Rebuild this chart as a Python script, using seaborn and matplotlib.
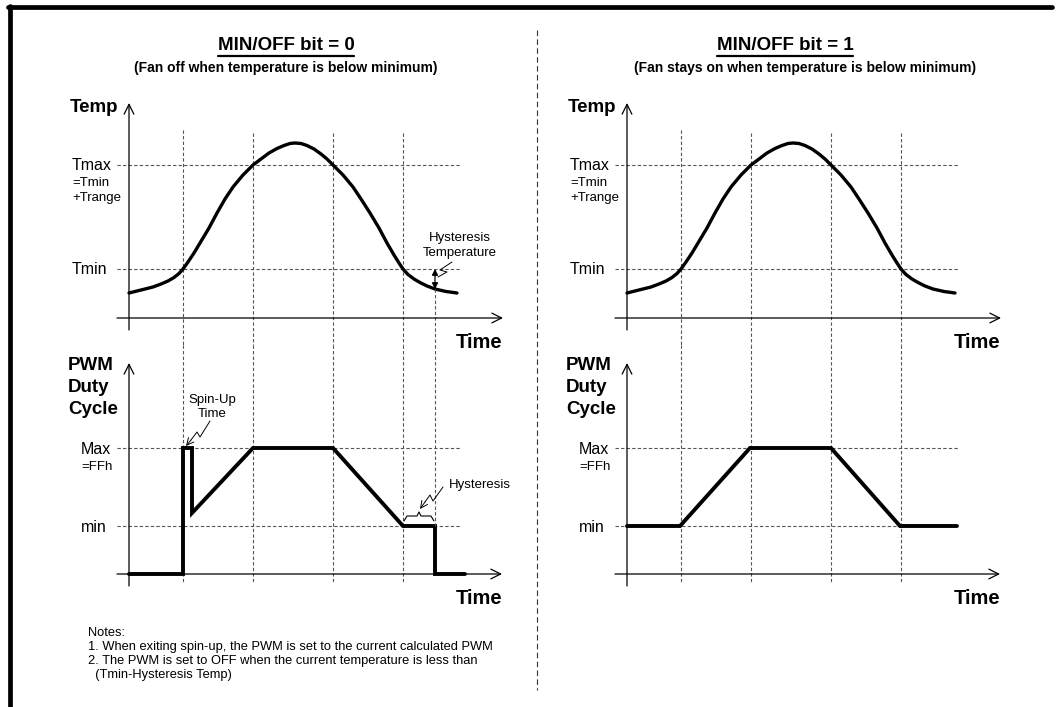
import matplotlib
matplotlib.use("Agg")
import numpy as np
import pandas as pd
import matplotlib.pyplot as plt
import seaborn as sns
from matplotlib.lines import Line2D

W, H = 1056, 707

# event times shared by both sides (where the PWM changes state)
EVENT_TIMES = [5.4, 12.4, 20.4, 27.4]
HYST_TIME = 30.6

# temperature levels
T_MIN = 4.9
T_MAX = 15.3

# temperature curve
TEMP_TIME = [0.0, 0.8, 1.6, 2.4, 3.2, 3.9, 4.5, 5.0, 5.4, 5.9, 6.5, 7.1, 8.0,
             8.8, 9.6, 10.4, 11.4, 12.4, 13.2, 14.0, 14.8, 15.5, 16.1, 16.6,
             17.2, 17.8, 18.5, 19.2, 19.8, 20.4, 21.4, 22.4, 23.2, 24.1, 25.0,
             25.8, 26.5, 27.0, 27.4, 27.9, 28.5, 29.1, 29.8, 30.6, 31.7, 32.8]
TEMP_VALUE = [2.5, 2.7, 2.9, 3.1, 3.4, 3.7, 4.05, 4.45, 4.9, 5.6, 6.5, 7.5,
              9.0, 10.5, 11.9, 13.1, 14.3, 15.3, 15.9, 16.5, 16.95, 17.25,
              17.45, 17.5, 17.45, 17.25, 16.9, 16.4, 15.9, 15.3, 14.3, 13.1,
              11.9, 10.5, 9.0, 7.5, 6.3, 5.5, 4.9, 4.35, 3.9, 3.55, 3.2, 2.9,
              2.65, 2.5]

# PWM levels
PWM_MIN = 4.8
PWM_MAX = 12.6

# MIN/OFF = 0: off, spin-up, ramp, hold, ramp down, hysteresis, off
PWM0_TIME = [0.0, 5.4, 5.4, 6.3, 6.3, 12.4, 20.4, 27.4, 30.6, 30.6, 33.6]
PWM0_VALUE = [0.0, 0.0, 12.6, 12.6, 6.1, 12.6, 12.6, 4.8, 4.8, 0.0, 0.0]

# MIN/OFF = 1: stays at min
PWM1_TIME = [0.0, 5.3, 12.3, 20.4, 27.3, 33.0]
PWM1_VALUE = [4.8, 4.8, 12.6, 12.6, 4.8, 4.8]

TITLES = ["MIN/OFF bit = 0", "MIN/OFF bit = 1"]
SUBTITLES = ["(Fan off when temperature is below minimum)",
             "(Fan stays on when temperature is below minimum)"]
NOTES = ["Notes:",
         "1. When exiting spin-up, the PWM is set to the current calculated PWM",
         "2. The PWM is set to OFF when the current temperature is less than",
         "  (Tmin-Hysteresis Temp)"]

sns.set_style("white")
plt.rcParams["font.family"] = ["Liberation Sans", "DejaVu Sans"]
plt.rcParams["text.color"] = "black"

DASH = dict(color="#555555", lw=0.8, ls=(0, (3, 2)))
FONT_BIG = 13.5
FONT_MID = 11.5


def px_axes(fig, left, top, right, bottom):
    return fig.add_axes([left / W, 1 - bottom / H, (right - left) / W, (bottom - top) / H])


def draw_axis_arrows(ax, x_end, y_end):
    arrow = dict(arrowstyle="->,head_length=0.7,head_width=0.35", lw=0.9, color="black",
                 shrinkA=0, shrinkB=0)
    ax.annotate("", xy=(x_end, 0), xytext=(-1.2, 0), arrowprops=arrow)
    ax.annotate("", xy=(0, y_end), xytext=(0, -1.2), arrowprops=arrow)


def temp_panel(ax, hysteresis):
    ax.set_xlim(-2.9, 39.1)
    ax.set_ylim(-2.7, 22.3)
    ax.axis("off")
    for level in [T_MIN, T_MAX]:
        ax.plot([-1.2, 33.1], [level, level], **DASH)
    for i, t in enumerate(EVENT_TIMES):
        top = 18.8 if i == 0 else 18.5
        ax.plot([t, t], [top, -2.7], clip_on=False, **DASH)
    df = pd.DataFrame({"time": TEMP_TIME, "temp": TEMP_VALUE})
    sns.lineplot(data=df, x="time", y="temp", ax=ax, color="black", lw=2.4,
                 sort=False, estimator=None, solid_joinstyle="round")
    draw_axis_arrows(ax, 37.4, 21.5)
    ax.text(-1.1, 21.0, "Temp", ha="right", va="center", fontsize=FONT_BIG, fontweight="bold")
    ax.text(-5.7, T_MAX, "Tmax", ha="left", va="center", fontsize=FONT_MID)
    ax.text(-5.7, 13.5, "=Tmin", ha="left", va="center", fontsize=9.5)
    ax.text(-5.7, 12.0, "+Trange", ha="left", va="center", fontsize=9.5)
    ax.text(-5.7, T_MIN, "Tmin", ha="left", va="center", fontsize=FONT_MID)
    ax.text(37.3, -2.5, "Time", ha="right", va="center", fontsize=14.5, fontweight="bold")
    if hysteresis:
        ax.plot([HYST_TIME, HYST_TIME], [2.9, -2.7], clip_on=False, **DASH)
        ax.annotate("", xy=(HYST_TIME, 2.9), xytext=(HYST_TIME, T_MIN),
                    arrowprops=dict(arrowstyle="<|-|>,head_length=0.35,head_width=0.18",
                                    lw=0.9, color="black", shrinkA=0, shrinkB=0))
        ax.plot([32.3, 31.1, 31.8, 30.9], [5.6, 4.8, 4.6, 4.1], color="black", lw=0.7)
        ax.text(33.1, 8.0, "Hysteresis", ha="center", va="center", fontsize=9.5)
        ax.text(33.1, 6.5, "Temperature", ha="center", va="center", fontsize=9.5)


def pwm_panel(ax, times, values, min_off):
    ax.set_xlim(-2.9, 39.1)
    ax.set_ylim(-2.6, 22.9)
    ax.axis("off")
    for level in [PWM_MIN, PWM_MAX]:
        ax.plot([-1.2, 33.1], [level, level], **DASH)
    for t in EVENT_TIMES:
        ax.plot([t, t], [22.9, -0.9], clip_on=False, **DASH)
    df = pd.DataFrame({"time": times, "pwm": values})
    sns.lineplot(data=df, x="time", y="pwm", ax=ax, color="black", lw=2.8,
                 sort=False, estimator=None, solid_joinstyle="miter")
    draw_axis_arrows(ax, 37.3, 21.1)
    ax.text(-6.1, 20.9, "PWM", ha="left", va="center", fontsize=FONT_BIG, fontweight="bold")
    ax.text(-6.1, 18.7, "Duty", ha="left", va="center", fontsize=FONT_BIG, fontweight="bold")
    ax.text(-6.1, 16.4, "Cycle", ha="left", va="center", fontsize=FONT_BIG, fontweight="bold")
    ax.text(-4.8, 12.5, "Max", ha="left", va="center", fontsize=FONT_MID)
    ax.text(-4.8, 10.7, "=FFh", ha="left", va="center", fontsize=9.5)
    ax.text(-4.8, 4.7, "min", ha="left", va="center", fontsize=FONT_MID)
    ax.text(37.3, -2.4, "Time", ha="right", va="center", fontsize=14.5, fontweight="bold")
    if min_off:
        ax.plot([HYST_TIME, HYST_TIME], [22.9, PWM_MIN], clip_on=False, **DASH)
        # spin-up leader
        ax.plot([8.1, 7.1, 6.8, 6.2], [15.3, 13.7, 14.2, 13.4], color="black", lw=0.7)
        ax.annotate("", xy=(5.7, 12.8), xytext=(6.2, 13.4),
                    arrowprops=dict(arrowstyle="->,head_length=0.5,head_width=0.25",
                                    lw=0.7, color="black", shrinkA=0, shrinkB=0))
        ax.text(8.3, 17.4, "Spin-Up", ha="center", va="center", fontsize=9.5)
        ax.text(8.3, 16.0, "Time", ha="center", va="center", fontsize=9.5)
        # hysteresis brace and leader
        ax.plot([27.5, 27.8, 28.8, 29.0, 29.2, 30.2, 30.5],
                [5.3, 5.8, 5.8, 6.2, 5.8, 5.8, 5.3], color="black", lw=0.8)
        ax.plot([31.4, 30.4, 30.1, 29.6], [8.7, 7.3, 7.9, 7.2], color="black", lw=0.7)
        ax.annotate("", xy=(29.1, 6.5), xytext=(29.6, 7.2),
                    arrowprops=dict(arrowstyle="->,head_length=0.5,head_width=0.25",
                                    lw=0.7, color="black", shrinkA=0, shrinkB=0))
        ax.text(32.0, 8.9, "Hysteresis", ha="left", va="center", fontsize=9.5)


fig = plt.figure(figsize=(W / 100, H / 100), dpi=100)

for side, offset in enumerate([0, 498]):
    ax_temp = px_axes(fig, 100 + offset, 95, 520 + offset, 345)
    ax_pwm = px_axes(fig, 100 + offset, 345, 520 + offset, 600)
    temp_panel(ax_temp, hysteresis=(side == 0))
    if side == 0:
        pwm_panel(ax_pwm, PWM0_TIME, PWM0_VALUE, min_off=True)
    else:
        pwm_panel(ax_pwm, PWM1_TIME, PWM1_VALUE, min_off=False)

title_x = [286, 785]
subtitle_x = [286, 805]
titles = []
for i in range(2):
    t = fig.text(title_x[i] / W, 1 - 45 / H, TITLES[i], ha="center", va="center",
                 fontsize=13.5, fontweight="bold")
    titles.append(t)
    fig.text(subtitle_x[i] / W, 1 - 68 / H, SUBTITLES[i], ha="center", va="center",
             fontsize=10, fontweight="bold")

for i, line in enumerate(NOTES):
    fig.text(88 / W, 1 - (633 + 14 * i) / H, line, ha="left", va="center", fontsize=9.3)

# frame and separator
fig.add_artist(Line2D([8 / W, 1052 / W], [1 - 7 / H, 1 - 7 / H], color="black", lw=3.4))
fig.add_artist(Line2D([10 / W, 10 / W], [1 - 6 / H, 0], color="black", lw=3.4))
fig.add_artist(Line2D([537 / W, 537 / W], [1 - 30 / H, 1 - 690 / H], color="#333333",
                      lw=0.8, ls=(0, (5, 3))))

# underline titles
fig.canvas.draw()
renderer = fig.canvas.get_renderer()
for t in titles:
    bb = t.get_window_extent(renderer).transformed(fig.transFigure.inverted())
    y = bb.y0 - 2 / H
    fig.add_artist(Line2D([bb.x0, bb.x1], [y, y], color="black", lw=1.6))

fig.savefig("out.png", dpi=100, facecolor="white")
